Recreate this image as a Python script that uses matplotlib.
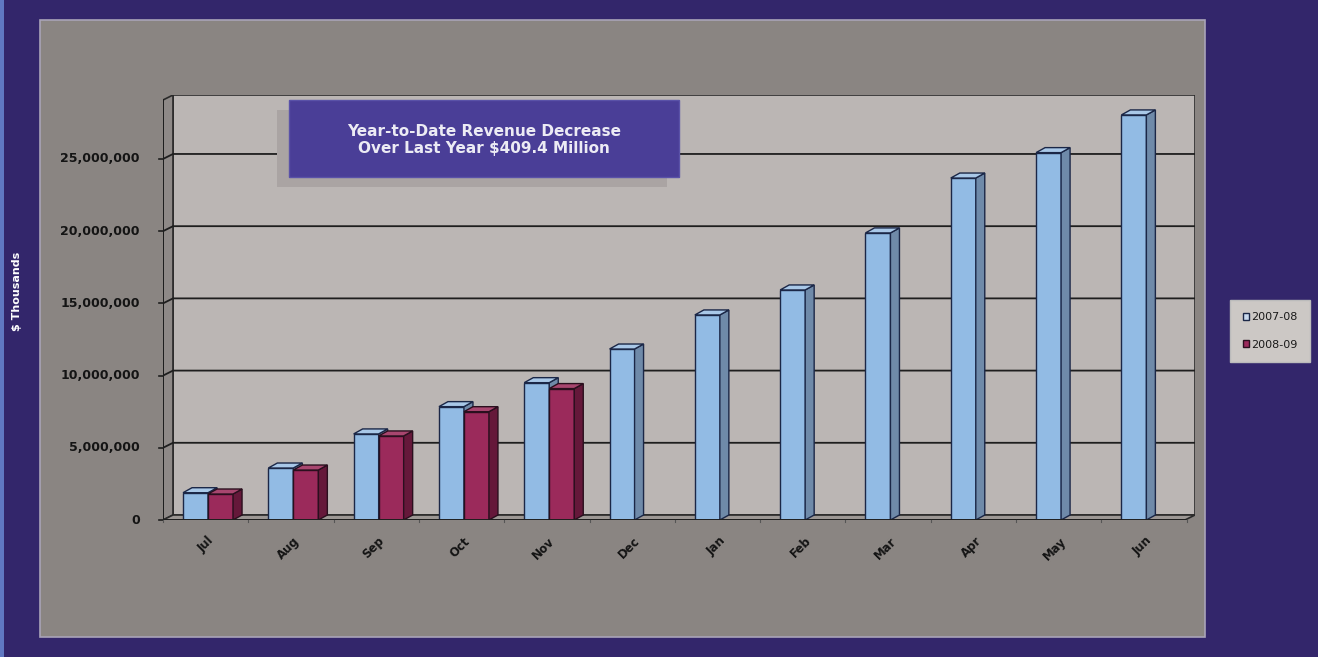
import matplotlib.pyplot as plt
from matplotlib.patches import Rectangle, Polygon, Patch

# monthly cumulative revenue, $ thousands
months = ['Jul', 'Aug', 'Sep', 'Oct', 'Nov', 'Dec', 'Jan', 'Feb', 'Mar', 'Apr', 'May', 'Jun']
rev_0708 = [1890000, 3600000, 5960000, 7850000, 9510000, 11840000, 14200000,
            15930000, 19880000, 23680000, 25440000, 28050000]
rev_0809 = [1800000, 3460000, 5820000, 7500000, 9100600]
series_names = ['2007-08', '2008-09']
y_ticks = [0, 5000000, 10000000, 15000000, 20000000, 25000000]
note = 'Year-to-Date Revenue Decrease\nOver Last Year $409.4 Million'

W, H = 1318, 657
purple = '#33266b'
panel = '#8a8582'
wall = '#bbb6b4'

fig = plt.figure(figsize=(W / 100, H / 100), dpi=100, facecolor=purple)

# light edge strip and grey chart panel, kept behind the axes
fig.patches.append(Rectangle((0, 0), 4 / W, 1, transform=fig.transFigure,
                             facecolor='#6078c2', edgecolor='none', zorder=-6))
fig.patches.append(Rectangle((40 / W, 1 - 637 / H), 1165 / W, 617 / H,
                             transform=fig.transFigure, facecolor=panel,
                             edgecolor='#a9a4b8', lw=1.2, zorder=-5))

ax = fig.add_axes([163 / W, 1 - 520 / H, (1195 - 163) / W, (520 - 95) / H])
ax.set_facecolor('none')
ax.axis('off')

px_x = 85.3          # pixels per category
px_m = 14.44         # pixels per million
xmin, xmax = -0.528, 11.57
ymax = 29.43e6
DX, DY = 10 / px_x, 5 / px_m * 1e6   # wall depth
ax.set_xlim(xmin, xmax)
ax.set_ylim(0, ymax)

# walls and floor
ax.add_patch(Rectangle((xmin + DX, DY), xmax - xmin - DX, ymax - DY,
                       facecolor=wall, edgecolor='#2a2a2a', lw=1.2, zorder=1))
ax.add_patch(Polygon([(xmin, 0), (xmin + DX, DY), (xmin + DX, ymax), (xmin, ymax - DY)],
                     closed=True, facecolor='#8e8987', edgecolor='#2a2a2a', lw=1.2, zorder=1))
ax.add_patch(Polygon([(xmin, 0), (xmin + DX, DY), (xmax, DY), (xmax - DX, 0)],
                     closed=True, facecolor='#9c9794', edgecolor='#2a2a2a', lw=1.2, zorder=1))

# gridlines drawn on the left and back walls
for v in y_ticks[1:]:
    ax.plot([xmin, xmin + DX, xmax], [v, v + DY, v + DY], color='#1e1e1e', lw=1.3, zorder=2)
for v in y_ticks:
    ax.plot([xmin - 0.05, xmin], [v, v], color='#1e1e1e', lw=1.2, zorder=2, clip_on=False)
    ax.text(xmin - 0.27, v, f'{v:,}', ha='right', va='center',
            fontsize=9, fontweight='bold', color='#141414', family='DejaVu Sans')

# front axis lines
ax.plot([xmin, xmin], [0, ymax - DY], color='#1e1e1e', lw=1.4, zorder=6)
ax.plot([xmin, xmax - DX], [0, 0], color='#1e1e1e', lw=1.4, zorder=6)
for i in range(len(months) + 1):
    ax.plot([xmin + i, xmin + i], [0, -0.15e6], color='#555', lw=0.8, zorder=6, clip_on=False)

bw = 25 / px_x
bdx, bdy = 9 / px_x, 5 / px_m * 1e6


def bar3d(xs, heights, x_shift, face, side, top, edge, z):
    rects = ax.bar([x + x_shift for x in xs], heights, width=bw, align='edge',
                   color=face, edgecolor=edge, lw=1.0, zorder=z)
    for r in rects:
        x0, h = r.get_x(), r.get_height()
        ax.add_patch(Polygon([(x0 + bw, 0), (x0 + bw + bdx, bdy), (x0 + bw + bdx, h + bdy),
                              (x0 + bw, h)], closed=True, facecolor=side,
                             edgecolor=edge, lw=1.0, zorder=z))
        ax.add_patch(Polygon([(x0, h), (x0 + bdx, h + bdy), (x0 + bw + bdx, h + bdy),
                              (x0 + bw, h)], closed=True, facecolor=top,
                             edgecolor=edge, lw=1.0, zorder=z))


pos = list(range(len(months)))
bar3d(pos, rev_0708, -bw, '#92bbe4', '#6f8aa9', '#a9c8e8', '#1b2747', 3)
bar3d(pos[:len(rev_0809)], rev_0809, 0, '#9b2a5b', '#65183a', '#a8466f', '#2a0f1e', 4)

for i, m in enumerate(months):
    ax.text(i - 0.01, -1.0e6, m, rotation=45, rotation_mode='anchor', ha='right', va='top',
            fontsize=8.5, fontweight='bold', color='#141414', family='DejaVu Sans')

# axis title in the left margin
fig.text(17 / W, 1 - 291 / H, '$ Thousands', rotation=90, ha='center', va='center',
         fontsize=8, fontweight='bold', color='white', family='DejaVu Sans')

# callout box with shadow
fig.patches.append(Rectangle((277 / W, 1 - 187 / H), 390 / W, 77 / H, transform=fig.transFigure,
                             facecolor='#aaa4a3', edgecolor='none', zorder=8))
fig.patches.append(Rectangle((289 / W, 1 - 177 / H), 390 / W, 77 / H, transform=fig.transFigure,
                             facecolor='#4a3e97', edgecolor='#5a52a8', lw=1, zorder=9))
fig.text(484 / W, 1 - 140 / H, note, ha='center', va='center', fontsize=11,
         fontweight='bold', color='#ecebf4', family='DejaVu Sans', linespacing=1.1,
         zorder=10)

handles = [Patch(facecolor='#c9d9ee', edgecolor='#1b2747'),
           Patch(facecolor='#9b2a5b', edgecolor='#2a0f1e')]
leg = fig.legend(handles, series_names, loc='center', bbox_to_anchor=(1270 / W, 1 - 331 / H),
                 fontsize=8, handlelength=0.6, handleheight=0.6, handletextpad=0.15,
                 labelspacing=1.6, borderpad=1.1, fancybox=False, frameon=True,
                 facecolor='#ccc8c5', edgecolor='#bbb', framealpha=1)
for t in leg.get_texts():
    t.set_color('#1a1a1a')

fig.savefig('out.png', dpi=100, facecolor=purple)
